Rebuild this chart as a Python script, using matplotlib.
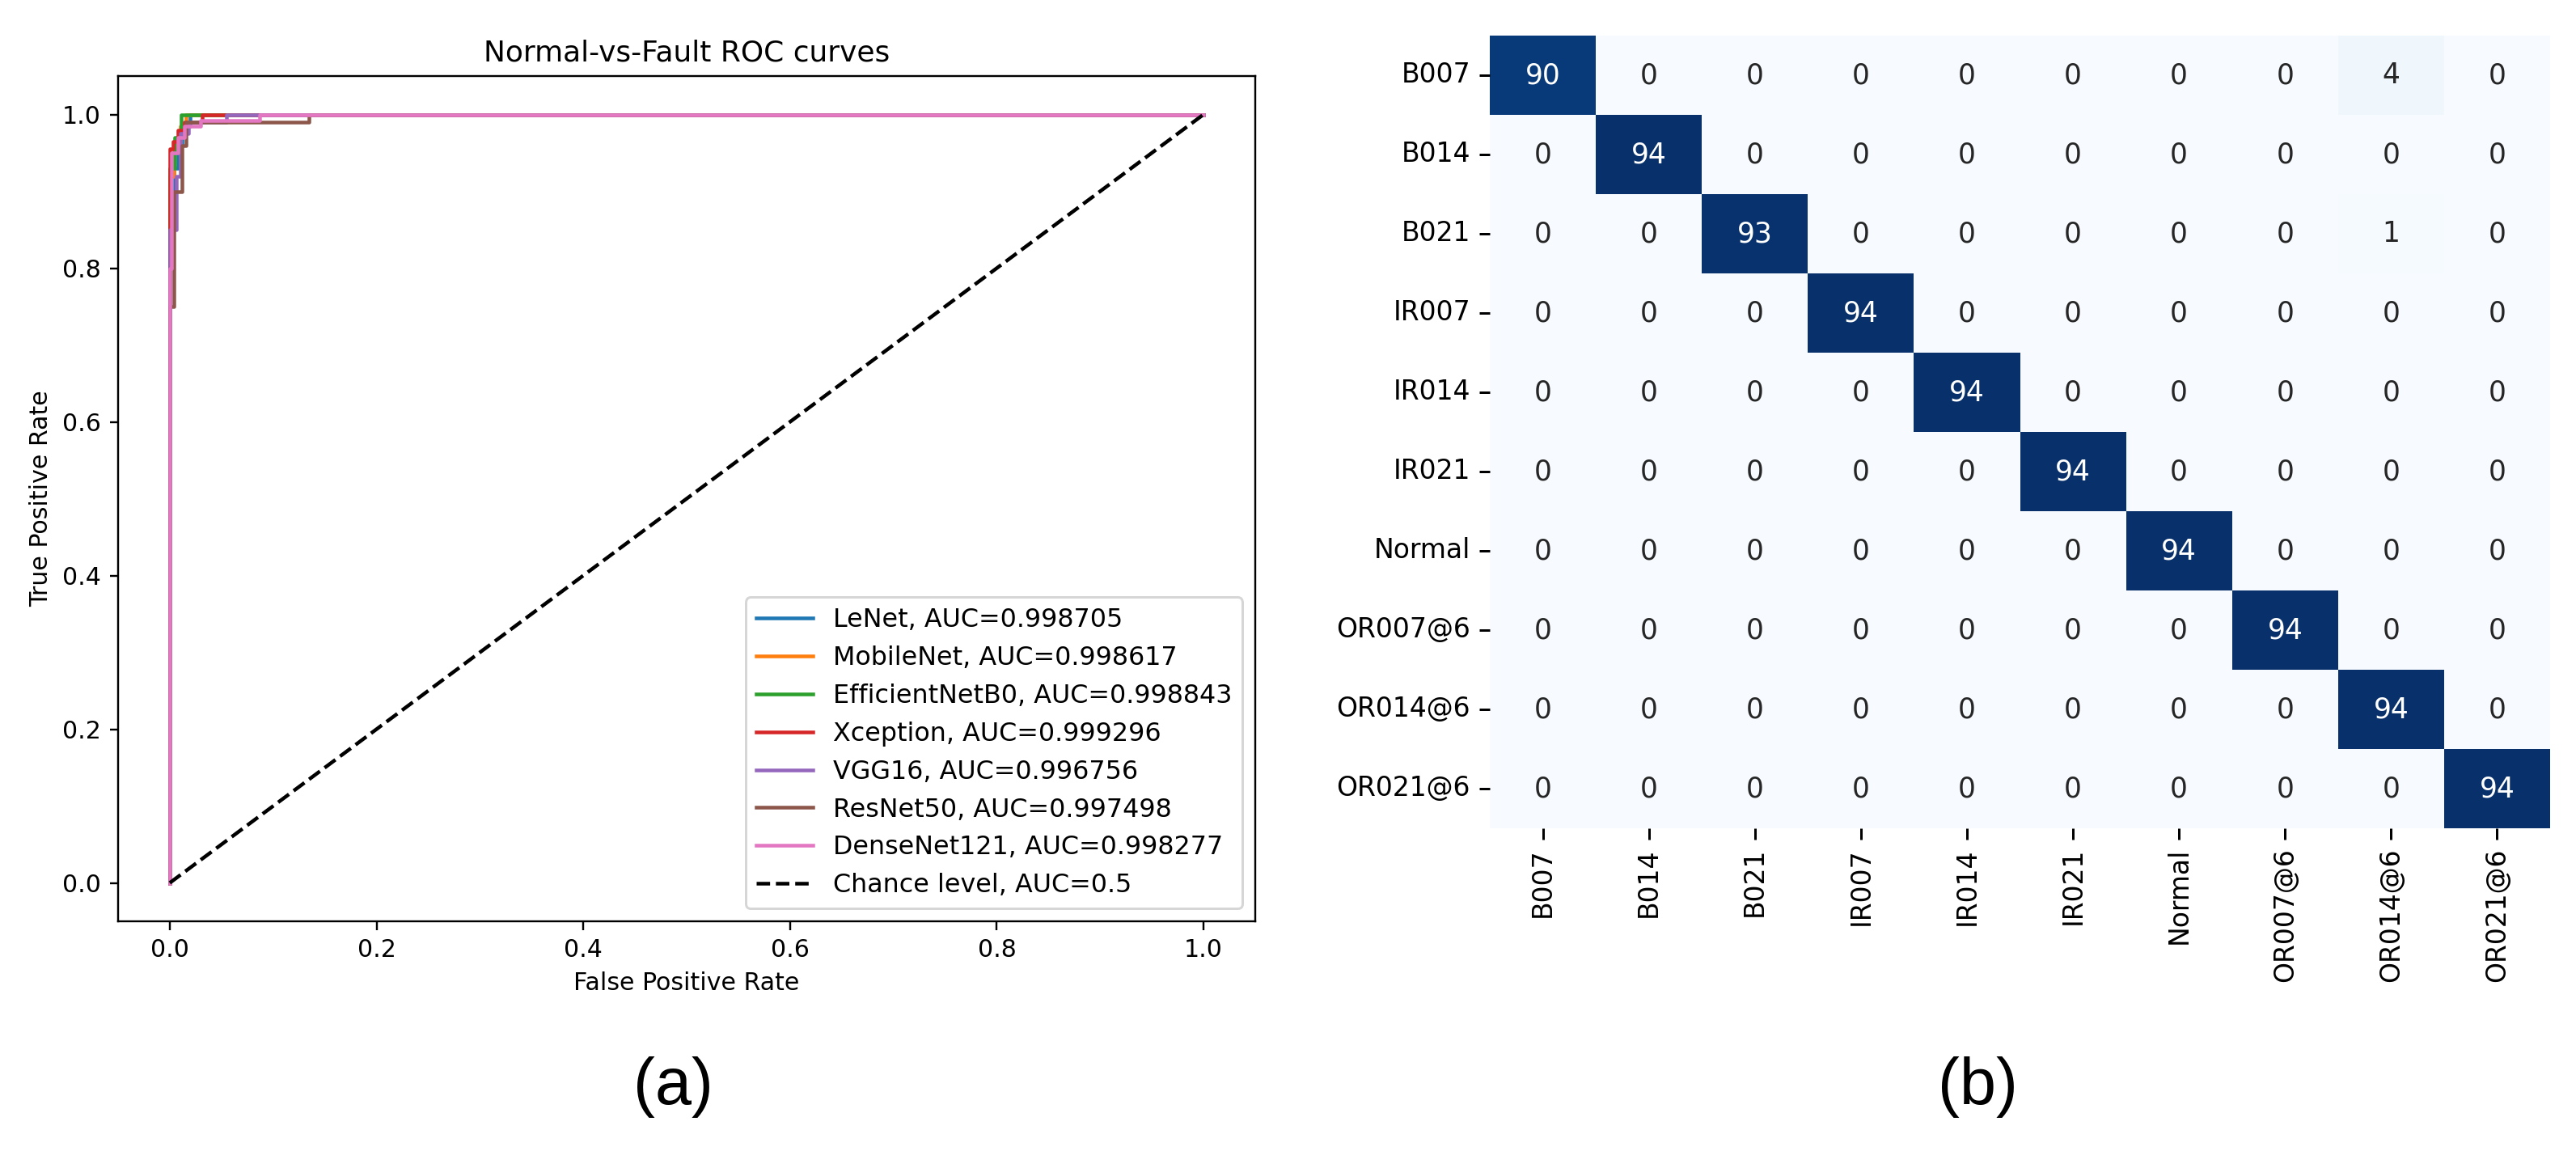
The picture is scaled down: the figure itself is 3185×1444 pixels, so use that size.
import numpy as np
import matplotlib
matplotlib.use("Agg")
import matplotlib.pyplot as plt
import seaborn as sns

# ---------------- data ----------------
models = ["LeNet", "MobileNet", "EfficientNetB0", "Xception", "VGG16", "ResNet50", "DenseNet121"]
aucs = ["0.998705", "0.998617", "0.998843", "0.999296", "0.996756", "0.997498", "0.998277"]
colors = ["#1f77b4", "#ff7f0e", "#2ca02c", "#d62728", "#9467bd", "#8c564b", "#e377c2"]

fpr_lenet = [0, 0, 0.004, 0.004, 0.008, 0.008, 0.012, 0.012, 0.020, 0.020, 1]
tpr_lenet = [0, 0.90, 0.90, 0.93, 0.93, 0.96, 0.96, 0.985, 0.985, 1, 1]
fpr_mobile = [0, 0, 0.004, 0.004, 0.010, 0.010, 0.016, 0.016, 1]
tpr_mobile = [0, 0.92, 0.92, 0.96, 0.96, 0.985, 0.985, 1, 1]
fpr_effnet = [0, 0, 0.005, 0.005, 0.011, 0.011, 1]
tpr_effnet = [0, 0.93, 0.93, 0.97, 0.97, 1, 1]
fpr_xception = [0, 0, 0.003, 0.003, 0.008, 0.008, 0.014, 0.014, 0.031, 0.031, 1]
tpr_xception = [0, 0.955, 0.955, 0.965, 0.965, 0.98, 0.98, 0.99, 0.99, 1, 1]
fpr_vgg = [0, 0, 0.006, 0.006, 0.010, 0.010, 0.018, 0.018, 0.055, 0.055, 1]
tpr_vgg = [0, 0.85, 0.85, 0.92, 0.92, 0.975, 0.975, 0.99, 0.99, 1, 1]
fpr_resnet = [0, 0, 0.004, 0.004, 0.012, 0.012, 0.016, 0.016, 0.135, 0.135, 1]
tpr_resnet = [0, 0.75, 0.75, 0.90, 0.90, 0.96, 0.96, 0.99, 0.99, 1, 1]
fpr_dense = [0, 0, 0.002, 0.002, 0.008, 0.008, 0.014, 0.014, 0.030, 0.030, 0.087, 0.087, 1]
tpr_dense = [0, 0.80, 0.80, 0.95, 0.95, 0.97, 0.97, 0.985, 0.985, 0.9926, 0.9926, 1, 1]

fprs = [fpr_lenet, fpr_mobile, fpr_effnet, fpr_xception, fpr_vgg, fpr_resnet, fpr_dense]
tprs = [tpr_lenet, tpr_mobile, tpr_effnet, tpr_xception, tpr_vgg, tpr_resnet, tpr_dense]

classes = ["B007", "B014", "B021", "IR007", "IR014", "IR021", "Normal",
           "OR007@6", "OR014@6", "OR021@6"]
cm_rows = [
    [90, 0, 0, 0, 0, 0, 0, 0, 4, 0],
    [0, 94, 0, 0, 0, 0, 0, 0, 0, 0],
    [0, 0, 93, 0, 0, 0, 0, 0, 1, 0],
    [0, 0, 0, 94, 0, 0, 0, 0, 0, 0],
    [0, 0, 0, 0, 94, 0, 0, 0, 0, 0],
    [0, 0, 0, 0, 0, 94, 0, 0, 0, 0],
    [0, 0, 0, 0, 0, 0, 94, 0, 0, 0],
    [0, 0, 0, 0, 0, 0, 0, 94, 0, 0],
    [0, 0, 0, 0, 0, 0, 0, 0, 94, 0],
    [0, 0, 0, 0, 0, 0, 0, 0, 0, 94],
]

# ---------------- figure ----------------
DPI = 216
W, H = 3185, 1444
fig = plt.figure(figsize=(W / DPI, H / DPI), dpi=DPI)

# ROC panel
ax1 = fig.add_axes([146 / W, 1 - 1139 / H, (1552 - 146) / W, (1139 - 94) / H])
for name, auc, c, fx, ty in zip(models, aucs, colors, fprs, tprs):
    ax1.plot(fx, ty, color=c, lw=1.5, label=f"{name}, AUC={auc}")
ax1.plot([0, 1], [0, 1], "k--", lw=1.5, label="Chance level, AUC=0.5")
ax1.set_title("Normal-vs-Fault ROC curves", fontsize=12)
ax1.set_xlabel("False Positive Rate")
ax1.set_ylabel("True Positive Rate")
ax1.set_xticks([0, 0.2, 0.4, 0.6, 0.8, 1.0])
ax1.set_yticks([0, 0.2, 0.4, 0.6, 0.8, 1.0])
ax1.legend(loc="lower right", fontsize=10.6, labelspacing=0.5, handlelength=2.2)

# Confusion matrix panel
ax2 = fig.add_axes([1842 / W, 1 - 1024 / H, 1311 / W, 980 / H])
cm = np.array(cm_rows)
sns.heatmap(cm, annot=True, fmt="d", cmap="Blues", cbar=False,
            xticklabels=classes, yticklabels=classes, ax=ax2,
            annot_kws={"size": 11.5})
ax2.set_xticklabels(classes, rotation=90, fontsize=11)
ax2.set_yticklabels(classes, rotation=0, fontsize=11)
ax2.tick_params(axis="both", length=4.5, width=1.0)
ax2.set_position([1842 / W, 1 - 1024 / H, 1311 / W, 980 / H])

# Panel labels
fig.text(832 / W, 1 - 1344 / H, "(a)", fontsize=27, family="Liberation Sans",
         ha="center", va="center")
fig.text(2445 / W, 1 - 1344 / H, "(b)", fontsize=27, family="Liberation Sans",
         ha="center", va="center")

fig.savefig("out.png", dpi=DPI)
